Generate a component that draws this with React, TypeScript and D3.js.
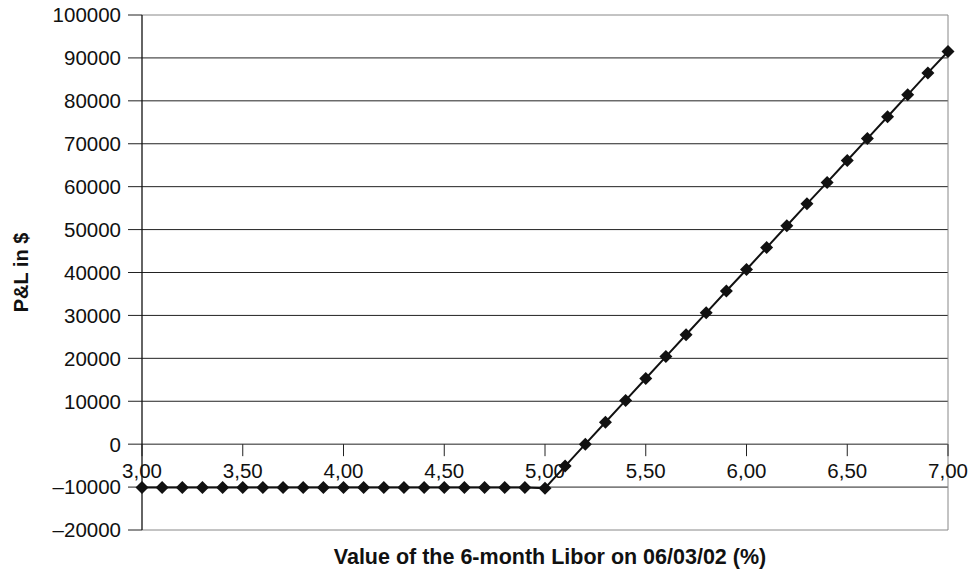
import React from "react";
import * as d3 from "d3";

const rates = [3.0,3.1,3.2,3.3,3.4,3.5,3.6,3.7,3.8,3.9,4.0,4.1,4.2,4.3,4.4,4.5,4.6,4.7,4.8,4.9,5.0,5.1,5.2,5.3,5.4,5.5,5.6,5.7,5.8,5.9,6.0,6.1,6.2,6.3,6.4,6.5,6.6,6.7,6.8,6.9,7.0];
const pnl = [-10100,-10100,-10100,-10100,-10100,-10100,-10100,-10100,-10100,-10100,-10100,-10100,-10100,-10100,-10100,-10100,-10100,-10100,-10100,-10100,-10250,-5100,0,5100,10200,15300,20400,25500,30600,35700,40700,45800,50900,56000,61000,66100,71200,76300,81400,86500,91500];
const yTicks = [-20000,-10000,0,10000,20000,30000,40000,50000,60000,70000,80000,90000,100000];
const xTicks = [3.0,3.5,4.0,4.5,5.0,5.5,6.0,6.5,7.0];
const xTitle = "Value of the 6-month Libor on 06/03/02 (%)";
const yTitle = "P&L in $";

export default function App() {
  const W = 977, H = 569;
  const L = 142, R = 948, T = 15, B = 530;
  const x = d3.scaleLinear().domain([3, 7]).range([L, R]);
  const y = d3.scaleLinear().domain([-20000, 100000]).range([B, T]);
  const line = d3.line<number>().x((_, i) => x(rates[i])).y((d) => y(d));
  const fmtY = (v: number) => (v < 0 ? "\u2013" + Math.abs(v) : String(v));
  const fmtX = (v: number) => v.toFixed(2).replace(".", ",");
  const font = "'Liberation Sans', Arial, sans-serif";
  const y0 = y(0);
  return (
    <svg width={W} height={H} style={{ position: "absolute", left: 0, top: 0 }} fontFamily={font}>
      <rect width={W} height={H} fill="#fff" />
      {yTicks.map((t) => (
        <g key={t}>
          <line x1={L} x2={R} y1={y(t)} y2={y(t)} stroke={t === 100000 || t === -20000 ? "#888" : "#222"} strokeWidth={1} />
          <line x1={L - 14} x2={L} y1={y(t)} y2={y(t)} stroke="#222" strokeWidth={1} />
          <text x={L - 21} y={y(t)} dy="0.36em" textAnchor="end" fontSize={20.5} fill="#111">{fmtY(t)}</text>
        </g>
      ))}
      <line x1={R} x2={R} y1={T} y2={B} stroke="#888" strokeWidth={1} />
      <line x1={L} x2={L} y1={T} y2={B} stroke="#111" strokeWidth={1.3} />
      {xTicks.map((t) => (
        <g key={t}>
          <line x1={x(t)} x2={x(t)} y1={y0} y2={y0 + 12} stroke="#222" strokeWidth={1} />
          <text x={x(t)} y={y0 + 34} textAnchor="middle" fontSize={20.5} fill="#111">{fmtX(t)}</text>
        </g>
      ))}
      <path d={line(pnl) || ""} fill="none" stroke="#111" strokeWidth={2} />
      {pnl.map((v, i) => (
        <path key={i} transform={`translate(${x(rates[i])},${y(v)})`} d="M0,-6.5L6.5,0L0,6.5L-6.5,0Z" fill="#111" />
      ))}
      <text x={550} y={564} textAnchor="middle" fontSize={21.5} fontWeight="bold" fill="#111">{xTitle}</text>
      <text transform={`translate(28,${(T + B) / 2}) rotate(-90)`} textAnchor="middle" fontSize={20} fontWeight="bold" fill="#111">{yTitle}</text>
    </svg>
  );
}
